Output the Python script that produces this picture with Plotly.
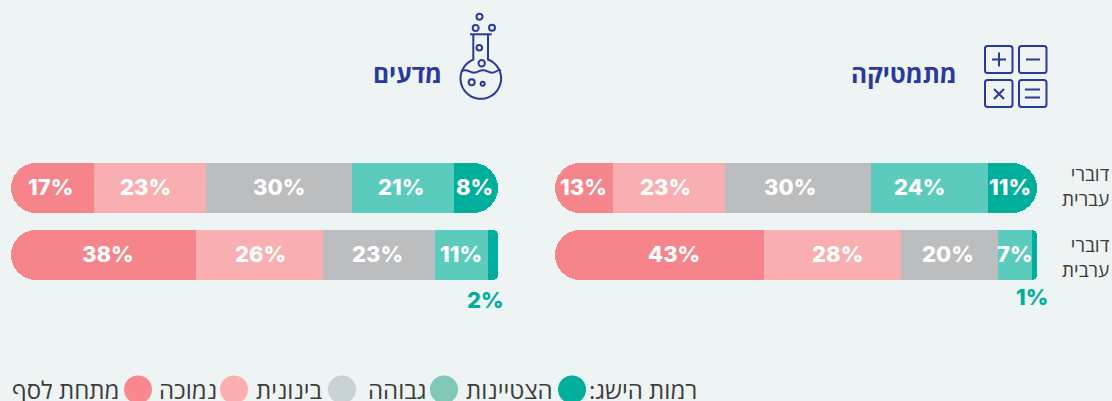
import re, math
import plotly.graph_objects as go

W, H = 1112, 401

# ---------- data ----------
rows = ["דוברי עברית", "דוברי ערבית"]
row_label_lines = ["דוברי<br>עברית", "דוברי<br>ערבית"]

math_hebrew_widths = [11.9, 23, 30, 24, 10.1]
math_arabic_widths = [43, 28, 20, 7, 1]
science_hebrew_widths = [17, 23, 30, 21, 9]
science_arabic_widths = [38, 26, 23, 11, 2]

math_hebrew_labels = ["13%", "23%", "30%", "24%", "11%"]
math_arabic_labels = ["43%", "28%", "20%", "7%", "1%"]
science_hebrew_labels = ["17%", "23%", "30%", "21%", "8%"]
science_arabic_labels = ["38%", "26%", "23%", "11%", "2%"]

panel_titles = ["מתמטיקה", "מדעים"]
legend_title = "רמות הישג:\u200f"
legend_names = ["הצטיינות", "גבוהה", "בינונית", "נמוכה", "מתחת לסף"]

# ---------- style ----------
BG = "#EEF4F4"
INK = "#2A3A9C"
TEXT = "#3C3C3C"
BAR_COLORS = ["#F6848B", "#F9AFB2", "#BCBDBF", "#5ACBBC", "#00AF9B"]
LEGEND_COLORS = ["#00AF9B", "#7FC8B8", "#C8D2D5", "#FCAEB0", "#FA878E"]
NUM_FONT = "Inter"
HEB_FONT = "Open Sans"

# label nudges (pixels), same order as the segments
nudge_math = [[0, -3, -8, -9.5, -2], [14, 5, -1, 0, -2.5]]
nudge_science = [[-2, -4, 0, -2, -2], [4, 1.5, -1.5, 0, -8]]

# pixel extents of the two bar rows (top, bottom)
ROW_PX = [(163, 213), (230, 280)]
END_RADIUS = [25, 5]

fig = go.Figure()
axis_no = [0]


def new_axes(widths, row_idx, xdomain):
    axis_no[0] += 1
    n = "" if axis_no[0] == 1 else str(axis_no[0])
    top, bottom = ROW_PX[row_idx]
    fig.update_layout({
        "xaxis" + n: dict(domain=[xdomain[0] / W, xdomain[1] / W],
                          range=[-widths[0], sum(widths[1:])], visible=False, fixedrange=True,
                          anchor="y" + n),
        "yaxis" + n: dict(domain=[1 - bottom / H, 1 - top / H], type="category", range=[-0.5, 0.5],
                          visible=False, fixedrange=True, anchor="x" + n),
    })
    return "x" + n, "y" + n


def add_bar_row(row, row_idx, widths, labels, nudges, xdomain):
    """The first segment runs to the negative side on its own axes, the others stack on the
    positive side on a second pair, so the two outer ends get their own rounding."""
    left_axes = new_axes(widths, row_idx, xdomain)
    right_axes = new_axes(widths, row_idx, xdomain)
    cum = -widths[0]
    for i, v in enumerate(widths):
        xa, ya = left_axes if i == 0 else right_axes
        fig.add_trace(go.Bar(
            y=[row], x=[-v if i == 0 else v], orientation="h", xaxis=xa, yaxis=ya,
            marker=dict(color=BAR_COLORS[i], line=dict(width=0),
                        cornerradius=25 if i == 0 else END_RADIUS[row_idx]),
            showlegend=False, name=labels[i], hoverinfo="name",
        ))
        small = labels[i] in ("1%", "2%")
        fig.add_annotation(
            x=cum + v / 2, y=row, xref=xa, yref=ya, text=labels[i], showarrow=False,
            xshift=nudges[i], yshift=(-45 if labels[i] == "2%" else -42) if small else 1,
            font=dict(family=NUM_FONT, size=22, weight=800,
                      color=BAR_COLORS[4] if small else "white"),
        )
        cum += v


MATH_PX = (555, 1037)
SCIENCE_PX = (11, 498)
add_bar_row(rows[0], 0, math_hebrew_widths, math_hebrew_labels, nudge_math[0], MATH_PX)
add_bar_row(rows[1], 1, math_arabic_widths, math_arabic_labels, nudge_math[1], MATH_PX)
add_bar_row(rows[0], 0, science_hebrew_widths, science_hebrew_labels, nudge_science[0], SCIENCE_PX)
add_bar_row(rows[1], 1, science_arabic_widths, science_arabic_labels, nudge_science[1], SCIENCE_PX)


# ---------- decoration helpers (page pixels -> paper) ----------
def to_paper(path):
    toks = re.findall(r"[A-Za-z]|-?\d+\.?\d*", path)
    out, k = [], 0
    for t in toks:
        if t.isalpha():
            out.append(t)
            k = 0
        else:
            val = float(t)
            out.append(f"{val / W:.5f}" if k % 2 == 0 else f"{1 - val / H:.5f}")
            k += 1
    return " ".join(out)


def stroke(path, width=2, fill=None):
    fig.add_shape(type="path", xref="paper", yref="paper", path=to_paper(path),
                  line=dict(color=INK, width=width), fillcolor=fill or "rgba(0,0,0,0)")


def circle(cx, cy, r, width=2):
    fig.add_shape(type="circle", xref="paper", yref="paper",
                  x0=(cx - r) / W, x1=(cx + r) / W, y0=1 - (cy + r) / H, y1=1 - (cy - r) / H,
                  line=dict(color=INK, width=width), fillcolor="rgba(0,0,0,0)")


def rrect(x0, y0, x1, y1, r=2.5):
    stroke(f"M {x0+r} {y0} L {x1-r} {y0} Q {x1} {y0} {x1} {y0+r} L {x1} {y1-r} Q {x1} {y1} {x1-r} {y1} "
           f"L {x0+r} {y1} Q {x0} {y1} {x0} {y1-r} L {x0} {y0+r} Q {x0} {y0} {x0+r} {y0} Z")


def text(x, y, s, size, color=TEXT, anchor="right", family=HEB_FONT, weight=400):
    fig.add_annotation(x=x / W, y=1 - y / H, xref="paper", yref="paper", text=s, showarrow=False,
                       xanchor=anchor, yanchor="middle", align=anchor, xshift=2,
                       font=dict(family=family, size=size, color=color, weight=weight))


# math icon
rrect(985, 46, 1012.5, 73)
rrect(1019, 46, 1046.5, 73)
rrect(985, 80, 1012.5, 107)
rrect(1019, 80, 1046.5, 107)
stroke("M 992 59.5 L 1006 59.5 M 999 52.5 L 999 66.5")
stroke("M 1026 59.5 L 1040 59.5")
stroke("M 994 89 L 1004 99 M 1004 89 L 994 99")
stroke("M 1025 89.5 L 1040 89.5 M 1025 97.5 L 1040 97.5")

# flask icon
cx, cy, R = 480.8, 78.5, 20.3
a0 = math.atan2(59.5 - cy, 473.3 - cx)
a1 = math.atan2(59.5 - cy, 488 - cx)
sweep = 2 * math.pi - (a1 - a0)
pts = [(cx + R * math.cos(a0 - sweep * t / 60), cy + R * math.sin(a0 - sweep * t / 60)) for t in range(61)]
flask = "M 473.3 34.5 L 473.3 59.5 " + " ".join(f"L {x:.2f} {y:.2f}" for x, y in pts) + " L 488 34.5"
stroke(flask)
stroke("M 470 34.3 L 491.7 34.3")
stroke("M 461 71.5 Q 465 69 469.5 71.5 T 478.5 71.5 T 487.5 71.5 T 496 71.5 T 500.5 71")
circle(479.5, 16.7, 3)
circle(475.7, 28, 3)
circle(492, 27.7, 3)
circle(479.3, 47.7, 2.8)
circle(481.7, 63.3, 3.2)
circle(471.7, 82.3, 3)
circle(482.7, 83.7, 2)

# panel titles
text(957, 73, panel_titles[0], 24.5, INK, weight=700)
text(442, 73, panel_titles[1], 24.5, INK, weight=700)

# row labels
for cy_row, lines in zip([187, 257.5], row_label_lines):
    text(1110, cy_row, lines, 19)

# custom legend
legend_cx = [572, 444, 342, 234, 138]
legend_text_right = [553, 427, 323, 217, 119]
text(697, 389, legend_title, 24)
for cxp, tr, name, col in zip(legend_cx, legend_text_right, legend_names, LEGEND_COLORS):
    fig.add_shape(type="circle", xref="paper", yref="paper",
                  x0=(cxp - 14) / W, x1=(cxp + 14) / W, y0=1 - 403.5 / H, y1=1 - 375.5 / H,
                  line=dict(width=0), fillcolor=col)
    text(tr, 389, name, 24)

fig.update_layout(
    width=W, height=H, margin=dict(l=0, r=0, t=0, b=0), autosize=False,
    paper_bgcolor=BG, plot_bgcolor="rgba(0,0,0,0)", barmode="relative", bargap=0, showlegend=False,
)
fig.write_html("out.html", config={"displayModeBar": False},
               post_script="document.body.style.margin='0';document.body.style.overflow='hidden';")
